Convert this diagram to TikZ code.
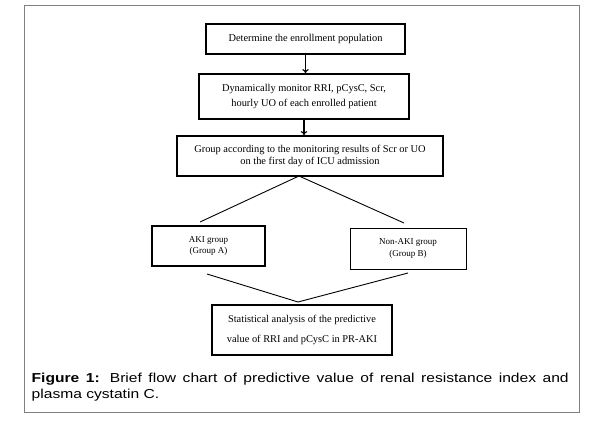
\documentclass[tikz,border=0pt]{standalone}
\usepackage{fontspec}
\setmainfont{Liberation Serif}
\newfontfamily\capfont[FakeStretch=1.2]{Liberation Sans}
\usetikzlibrary{arrows.meta}
\begin{document}
\begin{tikzpicture}[x=1pt,y=-1pt,
  flowbox/.style={draw=black, line width=1.8pt, inner sep=0pt, align=center,
    font=\fontsize{10.4}{12.5}\selectfont},
  groupbox/.style={flowbox, font=\fontsize{9}{10.8}\selectfont},
  thinbox/.style={groupbox, line width=0.7pt},
  conn/.style={draw=black, line width=0.9pt},
  arr/.style={draw=black, line width=1.1pt, -{To[length=4pt,width=6.5pt]}},
  frame/.style={draw=black!50, line width=1pt}]
\useasboundingbox (0,0) rectangle (597,425);
\draw[frame] (24,6) rectangle (579,412);

\node[flowbox, minimum width=199pt, minimum height=30pt] (b1) at (305.5,39)
  {Determine the enrollment population};
\node[flowbox, minimum width=210pt, minimum height=45pt] (b2) at (304,96.5)
  {Dynamically monitor RRI, pCysC, Scr,\\[3.3pt]hourly UO of each enrolled patient};
\node[flowbox, minimum width=266pt, minimum height=40pt] (b3) at (310,156)
  {Group according to the monitoring results of Scr or UO\\on the first day of ICU admission};
\node[groupbox, minimum width=113pt, minimum height=40pt] (aki) at (208.5,246)
  {AKI group\\[0.9pt](Group A)};
\node[thinbox, minimum width=116pt, minimum height=41pt] (non) at (408,248.5)
  {Non-AKI group\\[0.3pt](Group B)};
\node[flowbox, minimum width=180pt, minimum height=50pt] (b4) at (302,330)
  {Statistical analysis of the predictive\\[7.5pt]value of RRI and pCysC in PR-AKI};

\draw[arr] (b1.south) -- (b1.south |- b2.north);
\draw[arr] (b2.south) -- (b2.south |- b3.north);

\coordinate (top) at (299,176);
\coordinate (la) at (200,222);
\coordinate (ra) at (404,223);
\coordinate (lb) at (207,274);
\coordinate (rb) at (408,273);
\coordinate (bot) at (298,302);
\draw[conn] (la) -- (top) -- (ra);
\draw[conn] (lb) -- (bot) -- (rb);

\node[anchor=base west, inner sep=0pt, font=\capfont\fontsize{13}{16}\selectfont] (cap1) at (31.5,382)
  {\makebox[537pt][s]{\textbf{Figure 1:} Brief flow chart of predictive value of renal resistance index and}};
\node[anchor=base west, inner sep=0pt, font=\capfont\fontsize{13}{16}\selectfont] (cap2) at (31.5,398)
  {plasma cystatin C.};
\end{tikzpicture}
\end{document}
